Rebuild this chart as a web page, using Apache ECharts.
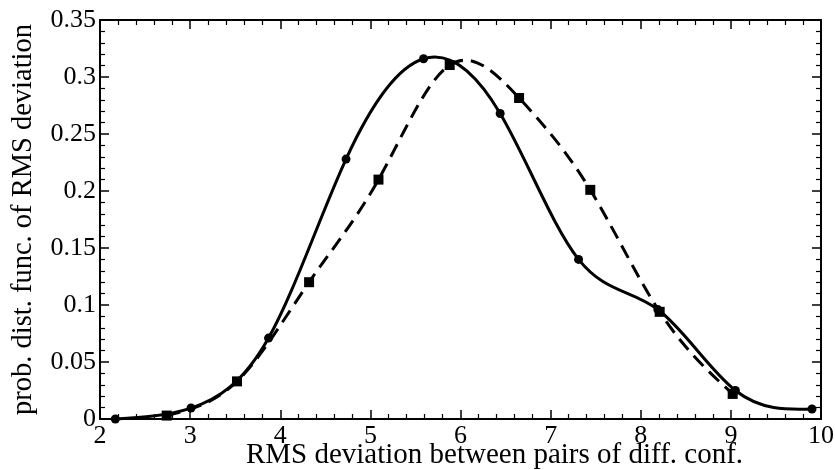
<!DOCTYPE html>
<html>
<head>
<meta charset="utf-8">
<script src="https://cdn.jsdelivr.net/npm/echarts@6/dist/echarts.min.js"></script>
<style>
  html, body { margin: 0; padding: 0; background: #fff; }
  #chart { width: 835px; height: 470px; }
</style>
</head>
<body>
<div id="chart"></div>
<script>
// RMS deviation samples (circles, solid curve)
const solidX = [2.17, 3.01, 3.87, 4.73, 5.59, 6.44, 7.31, 8.19, 9.05, 9.9];
const solidY = [0.0, 0.0096, 0.071, 0.228, 0.316, 0.268, 0.140, 0.096, 0.025, 0.0088];
// RMS deviation samples (squares, dashed curve)
const dashX = [2.74, 3.52, 4.32, 5.09, 5.88, 6.65, 7.44, 8.21, 9.02];
const dashY = [0.003, 0.033, 0.120, 0.210, 0.3105, 0.2816, 0.201, 0.094, 0.022];

const xTitle = 'RMS deviation between pairs of diff. conf.';
const yTitle = 'prob. dist. func. of RMS deviation';

const FONT = '"Liberation Serif", "DejaVu Serif", serif';

function pairs(xs, ys) { return xs.map((x, i) => [x, ys[i]]); }

// Node slopes of a natural cubic spline y(x) through the samples.
function splineSlopes(xs, ys) {
  const n = xs.length;
  const h = [], d = [];
  for (let i = 0; i < n - 1; i++) { h.push(xs[i + 1] - xs[i]); d.push((ys[i + 1] - ys[i]) / h[i]); }
  const M = new Array(n).fill(0);
  if (n > 2) {
    const a = [], b = [], c = [], r = [];
    for (let i = 1; i < n - 1; i++) {
      a.push(h[i - 1]); b.push(2 * (h[i - 1] + h[i])); c.push(h[i]); r.push(6 * (d[i] - d[i - 1]));
    }
    const m = b.length;
    for (let i = 1; i < m; i++) {
      const w = a[i] / b[i - 1];
      b[i] -= w * c[i - 1];
      r[i] -= w * r[i - 1];
    }
    const sol = new Array(m);
    sol[m - 1] = r[m - 1] / b[m - 1];
    for (let i = m - 2; i >= 0; i--) sol[i] = (r[i] - c[i] * sol[i + 1]) / b[i];
    for (let i = 0; i < m; i++) M[i + 1] = sol[i];
  }
  const slopes = [];
  for (let i = 0; i < n - 1; i++) slopes.push(d[i] - h[i] * (2 * M[i] + M[i + 1]) / 6);
  slopes.push(d[n - 2] + h[n - 2] * (M[n - 2] + 2 * M[n - 1]) / 6);
  return slopes;
}

// Custom series drawing the spline as one bezier path through the axis scales.
function curveSeries(xs, ys, dash) {
  const k = splineSlopes(xs, ys);
  return {
    type: 'custom', coordinateSystem: 'cartesian2d', silent: true, z: 2,
    data: pairs(xs, ys),
    encode: { x: 0, y: 1 },
    renderItem: function (params, api) {
      if (params.dataIndex !== 0) return null;
      const p0 = api.coord([xs[0], ys[0]]);
      let path = 'M' + p0[0] + ' ' + p0[1];
      for (let i = 0; i < xs.length - 1; i++) {
        const hh = (xs[i + 1] - xs[i]) / 3;
        const c1 = api.coord([xs[i] + hh, ys[i] + k[i] * hh]);
        const c2 = api.coord([xs[i + 1] - hh, ys[i + 1] - k[i + 1] * hh]);
        const p1 = api.coord([xs[i + 1], ys[i + 1]]);
        path += ' C' + c1[0] + ' ' + c1[1] + ' ' + c2[0] + ' ' + c2[1] + ' ' + p1[0] + ' ' + p1[1];
      }
      return {
        type: 'path',
        shape: { pathData: path },
        style: { fill: null, stroke: '#000', lineWidth: 3, lineDash: dash, lineCap: 'butt', lineJoin: 'round' }
      };
    }
  };
}

const frameLine = { show: true, onZero: false, lineStyle: { color: '#000', width: 2 } };
const majorTick = { show: true, inside: true, length: 9, lineStyle: { color: '#000', width: 1.5 } };
const minorTick = { show: true, splitNumber: 5, length: 5, lineStyle: { color: '#000', width: 1.2 } };

const chart = echarts.init(document.getElementById('chart'), null, { renderer: 'canvas' });
chart.setOption({
  backgroundColor: '#fff',
  animation: false,
  grid: { left: 100, right: 14, top: 20, bottom: 51, containLabel: false, outerBoundsMode: 'none' },
  xAxis: [
    {
      type: 'value', min: 2, max: 10, interval: 1, position: 'bottom',
      axisLine: frameLine, axisTick: majorTick, minorTick: minorTick,
      splitLine: { show: false },
      axisLabel: { color: '#000', fontFamily: FONT, fontSize: 26, margin: 6, lineHeight: 22 },
      name: xTitle, nameLocation: 'middle', nameGap: 22, nameMoveOverlap: false,
      nameTextStyle: { color: '#000', fontFamily: FONT, fontSize: 29, padding: [0, 0, 0, 68] }
    },
    {
      type: 'value', min: 2, max: 10, interval: 1, position: 'top',
      axisLine: frameLine, axisTick: majorTick, minorTick: minorTick,
      splitLine: { show: false }, axisLabel: { show: false }
    }
  ],
  yAxis: [
    {
      type: 'value', min: 0, max: 0.35, interval: 0.05, position: 'left',
      axisLine: frameLine, axisTick: majorTick, minorTick: minorTick,
      splitLine: { show: false },
      axisLabel: { color: '#000', fontFamily: FONT, fontSize: 26, margin: 4 },
      name: yTitle, nameLocation: 'middle', nameGap: 62, nameMoveOverlap: false,
      nameTextStyle: { color: '#000', fontFamily: FONT, fontSize: 28.5 }
    },
    {
      type: 'value', min: 0, max: 0.35, interval: 0.05, position: 'right',
      axisLine: frameLine, axisTick: majorTick, minorTick: minorTick,
      splitLine: { show: false }, axisLabel: { show: false }
    }
  ],
  series: [
    curveSeries(dashX, dashY, [14, 8]),
    curveSeries(solidX, solidY, null),
    {
      type: 'scatter', data: pairs(dashX, dashY), symbol: 'rect', symbolSize: 10, z: 3,
      itemStyle: { color: '#000', opacity: 1 }
    },
    {
      type: 'scatter', data: pairs(solidX, solidY), symbol: 'circle', symbolSize: 9, z: 3,
      itemStyle: { color: '#000', opacity: 1 }
    }
  ]
});
</script>
</body>
</html>
